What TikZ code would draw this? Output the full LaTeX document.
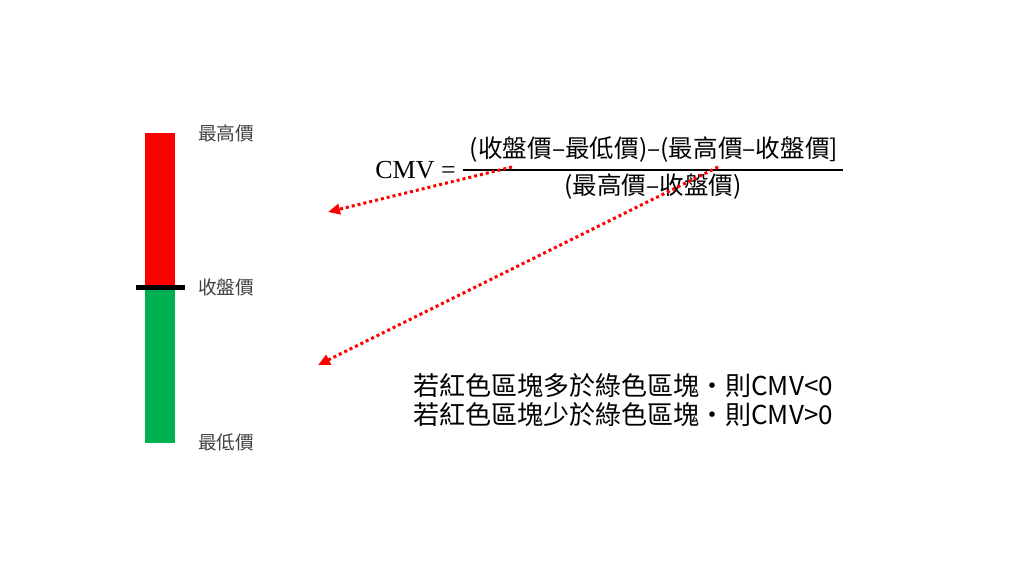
\documentclass[tikz,border=0pt]{standalone}
\usepackage{fontspec}
\newfontfamily\cjk{Noto Sans CJK TC}
\newfontfamily\cmvfont{Liberation Serif}
\usetikzlibrary{arrows.meta}
\definecolor{barred}{HTML}{FF0000}
\definecolor{bargreen}{HTML}{00B050}
\definecolor{labelgray}{HTML}{404040}
\begin{document}
\begin{tikzpicture}[x=.25mm,y=-.25mm,line cap=butt,
  lbl/.style={font=\cjk\fontsize{13.3}{16}\selectfont,text=labelgray,anchor=west,inner sep=0pt},
  frm/.style={font=\cjk\fontsize{17.5}{21}\selectfont,inner sep=0pt},
  note/.style={font=\cjk\fontsize{18.5}{20.6}\selectfont,align=left,anchor=west,inner sep=0pt},
  pointer/.style={draw=barred,line width=.75mm,dash pattern=on .75mm off .75mm,
    -{Triangle[length=3mm,width=2.6mm]}}]
\useasboundingbox (0,0) rectangle (1024,576);
% price bar
\fill[barred] (145,133) rectangle (175,287);
\fill[bargreen] (145,287) rectangle (175,443);
\draw[line width=1.3mm] (136,287.5)--(185,287.5);
\node[lbl] (high) at (198,133) {最高價};
\node[lbl] (close) at (198,287) {收盤價};
\node[lbl] (low) at (198,442) {最低價};
% formula
\node[font=\cmvfont\fontsize{18.5}{22}\selectfont,anchor=east,inner sep=0pt] (cmv) at (456,170) {CMV =};
\node[frm] (num) at (654,150) {(收盤價–最低價)–(最高價–收盤價]};
\node[frm] (den) at (653,187) {(最高價–收盤價)};
\draw[line width=.45mm] (463,170)--(843,170);
\coordinate (p1) at (512,167);
\coordinate (p2) at (718,167);
\coordinate (t1) at (328,212);
\coordinate (t2) at (318,365);
\draw[pointer] (p1)--(t1);
\draw[pointer] (p2)--(t2);
% rule
\node[note] (rule) at (413,400)
  {若紅色區塊多於綠色區塊・則CMV<0\\若紅色區塊少於綠色區塊・則CMV>0};
\end{tikzpicture}
\end{document}
